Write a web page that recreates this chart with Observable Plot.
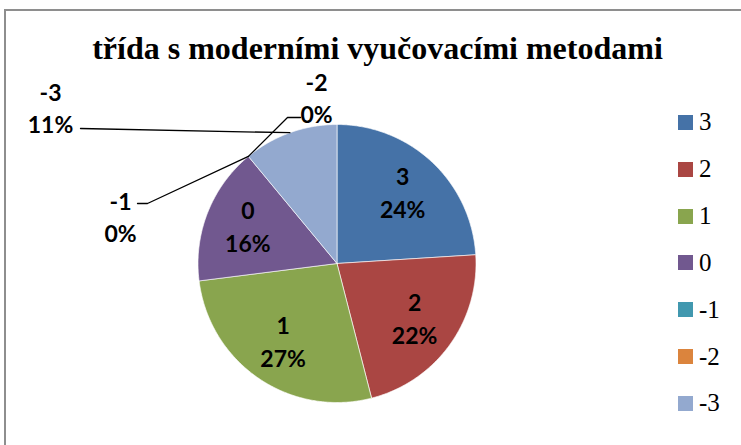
<!DOCTYPE html>
<html><head><meta charset="utf-8">
<script src="https://cdn.jsdelivr.net/npm/d3@7"></script>
<script src="https://cdn.jsdelivr.net/npm/@observablehq/plot@0.6"></script>
<style>
html,body{margin:0;padding:0;background:#fff;}
#chart{position:relative;width:741px;height:445px;overflow:hidden;}
#frame{position:absolute;left:4px;top:9px;width:800px;height:500px;border-left:2px solid #8e8e8e;border-top:2px solid #8e8e8e;}
#plot{position:absolute;left:0;top:0;}
</style></head><body>
<div id="chart"><div id="frame"></div><div id="plot"></div>
<div id="title" style="position:absolute;left:0;top:33px;width:755px;text-align:center;font-family:'Liberation Serif';font-weight:bold;font-size:32px;line-height:30px;white-space:nowrap;color:#000;"></div>
<div id="legend" style="position:absolute;left:678px;top:99px;font-family:'Liberation Serif';font-size:25px;color:#000;"></div></div>
<script>
// ---- data ----
const titleText = "třída s moderními vyučovacími metodami";
const categories = ["3", "2", "1", "0", "-1", "-2", "-3"];
const percents = [24, 22, 27, 16, 0, 0, 11];
const colors = ["#4572A7", "#AA4643", "#89A54E", "#71588F", "#4198AF", "#DB843D", "#93A9CF"];

// ---- layout (pixels) ----
const W = 741, H = 445, CX = 336.5, CY = 263, R = 139;
const insideRadius = 0.69;
const outsideLabels = {
  "-3": {label: [50, 106], path: [[80, 128]]},
  "-2": {label: [316, 96], path: [[300, 117], [287, 117]]},
  "-1": {label: [120, 215], path: [[137, 203], [147, 203]]}
};
const ux = px => (px - CX) / R;
const uy = py => (CY - py) / R;

const rows = categories.map((c, i) => ({cat: c, value: percents[i]}));
const arcs = d3.pie().sort(null).value(d => d.value)(rows);

// slice polygons
const slicePts = [];
for (const a of arcs) {
  if (a.data.value <= 0) continue;
  const n = Math.max(2, Math.ceil((a.endAngle - a.startAngle) / (Math.PI / 360)));
  slicePts.push({cat: a.data.cat, x: 0, y: 0});
  for (let k = 0; k <= n; k++) {
    const t = a.startAngle + (a.endAngle - a.startAngle) * k / n;
    slicePts.push({cat: a.data.cat, x: Math.sin(t), y: Math.cos(t)});
  }
  slicePts.push({cat: a.data.cat, x: 0, y: 0});
}

const labelText = d => `${d.cat}\n${d.value}%`;
const inside = arcs.filter(a => !(a.data.cat in outsideLabels)).map(a => {
  const m = (a.startAngle + a.endAngle) / 2;
  return {...a.data, x: insideRadius * Math.sin(m), y: insideRadius * Math.cos(m)};
});
const outside = arcs.filter(a => a.data.cat in outsideLabels).map(a => {
  const o = outsideLabels[a.data.cat];
  return {...a.data, x: ux(o.label[0]), y: uy(o.label[1])};
});
const leaders = [];
for (const a of arcs) {
  const o = outsideLabels[a.data.cat];
  if (!o) continue;
  const m = (a.startAngle + a.endAngle) / 2;
  for (const p of o.path) leaders.push({cat: a.data.cat, x: ux(p[0]), y: uy(p[1])});
  leaders.push({cat: a.data.cat, x: Math.sin(m), y: Math.cos(m)});
}

const textOpts = {text: labelText, fontFamily: "Lato", fontWeight: "bold", fontSize: 23, lineHeight: 1.43, fill: "#000"};

const plot = Plot.plot({
  width: W, height: H, margin: 0,
  style: {background: "transparent", overflow: "visible"},
  x: {domain: [ux(0), ux(W)], range: [0, W], axis: null},
  y: {domain: [uy(H), uy(0)], range: [H, 0], axis: null},
  color: {domain: categories, range: colors},
  marks: [
    Plot.line(slicePts, {x: "x", y: "y", z: "cat", fill: "cat", stroke: "#ffffff", strokeWidth: 0.8, strokeOpacity: 0.8, curve: "linear"}),
    Plot.line(leaders, {x: "x", y: "y", z: "cat", stroke: "#000", strokeWidth: 1.3, curve: "linear"}),
    Plot.text(inside, {x: "x", y: "y", ...textOpts, dy: -3}),
    Plot.text(outside, {x: "x", y: "y", ...textOpts})
  ]
});
document.getElementById("plot").appendChild(plot);
document.getElementById("title").textContent = titleText;

const legend = document.getElementById("legend");
const color = plot.scale("color");
categories.forEach((c, i) => {
  const item = document.createElement("div");
  item.style.cssText = "display:flex;align-items:center;height:46.83px;";
  const sw = document.createElement("div");
  sw.style.cssText = "width:15px;height:15px;margin-right:6px;flex:none;background:" + color.range[i];
  const t = document.createElement("span");
  t.textContent = c;
  item.appendChild(sw); item.appendChild(t);
  legend.appendChild(item);
});
</script>
</body></html>
